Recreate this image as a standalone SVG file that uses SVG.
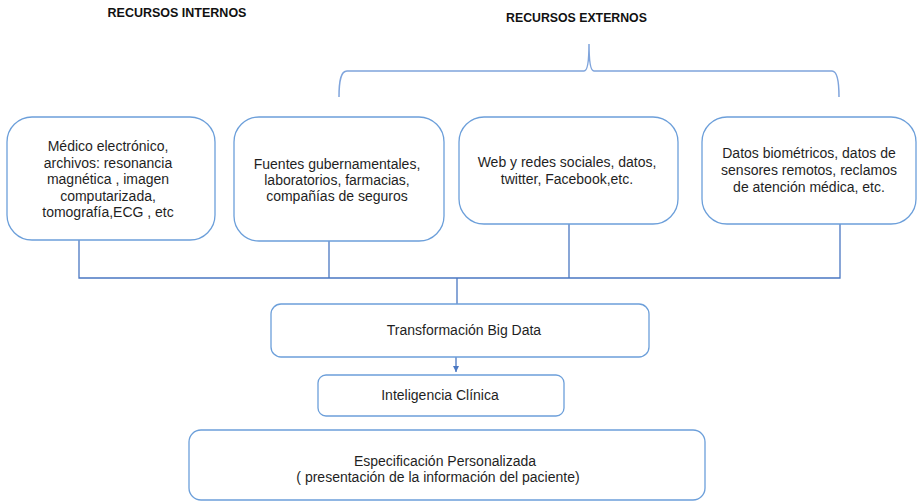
<svg xmlns="http://www.w3.org/2000/svg" width="917" height="503" viewBox="0 0 917 503">
<defs>
<style>
.box{fill:#fff;stroke:#6C9FDA;stroke-width:1.3}
.t{font-family:"Liberation Sans",Arial,sans-serif;font-size:14px;fill:#1f1f1f;text-anchor:middle}
.h{font-family:"Liberation Sans",Arial,sans-serif;font-weight:bold;fill:#111;text-anchor:middle}
.c{fill:none;stroke:#4A77C2;stroke-width:1.3}
.br{fill:none;stroke:#7FA4DC;stroke-width:1.5}
</style>
<marker id="arr" viewBox="0 0 10 10" refX="10" refY="5" markerWidth="6" markerHeight="6" markerUnits="userSpaceOnUse" orient="auto">
<path d="M0,0 L10,5 L0,10 z" fill="#4A77C2"/>
</marker>
</defs>
<rect width="917" height="503" fill="#fff"/>
<text class="h" x="177" y="17" font-size="12.5">RECURSOS INTERNOS</text>
<text class="h" x="576.5" y="22" font-size="12.3">RECURSOS EXTERNOS</text>
<path class="br" d="M339,97 C339,80 341,71 347,71 L584,71 C587,71 589,64 589,44 C589,64 591,71 594,71 L832,71 C837,71 839,80 839,97"/>
<g id="connectors">
<path class="c" d="M79,225 V278 H840 V224"/>
<path class="c" d="M329,225 V278"/>
<path class="c" d="M569,224 V278"/>
<path class="c" d="M457,278 V304"/>
<path class="c" d="M456,357 V372" marker-end="url(#arr)"/>
</g>
<g id="n1">
<rect class="box" x="7" y="117" width="208" height="123" rx="25"/>
<text class="t" x="108"><tspan x="108" y="151">Médico electrónico,</tspan><tspan x="108" y="167.5">archivos: resonancia</tspan><tspan x="108" y="184">magnética , imagen</tspan><tspan x="108" y="200.5">computarizada,</tspan><tspan x="108" y="217">tomografía,ECG , etc</tspan></text>
</g>
<g id="n2">
<rect class="box" x="234" y="117" width="210" height="124" rx="25"/>
<text class="t"><tspan x="337" y="169">Fuentes gubernamentales,</tspan><tspan x="337" y="185">laboratorios, farmacias,</tspan><tspan x="337" y="201">compañías de seguros</tspan></text>
</g>
<g id="n3">
<rect class="box" x="459" y="117" width="219" height="107" rx="25"/>
<text class="t"><tspan x="567" y="167">Web y redes sociales, datos,</tspan><tspan x="567" y="184">twitter, Facebook,etc.</tspan></text>
</g>
<g id="n4">
<rect class="box" x="702" y="117" width="214" height="107" rx="25"/>
<text class="t"><tspan x="809" y="158">Datos biométricos, datos de</tspan><tspan x="809" y="175">sensores remotos, reclamos</tspan><tspan x="809" y="192">de atención médica, etc.</tspan></text>
</g>
<g id="n5">
<rect class="box" x="271" y="304" width="378" height="53" rx="10"/>
<text class="t" x="464" y="335">Transformación Big Data</text>
</g>
<g id="n6">
<rect class="box" x="318" y="375" width="246" height="41" rx="8"/>
<text class="t" x="440" y="400">Inteligencia Clínica</text>
</g>
<g id="n7">
<rect class="box" x="189" y="430" width="516" height="70" rx="12"/>
<text class="t"><tspan x="445" y="466">Especificación Personalizada</tspan><tspan x="438" y="482">( presentación de la información del paciente)</tspan></text>
</g>
</svg>
